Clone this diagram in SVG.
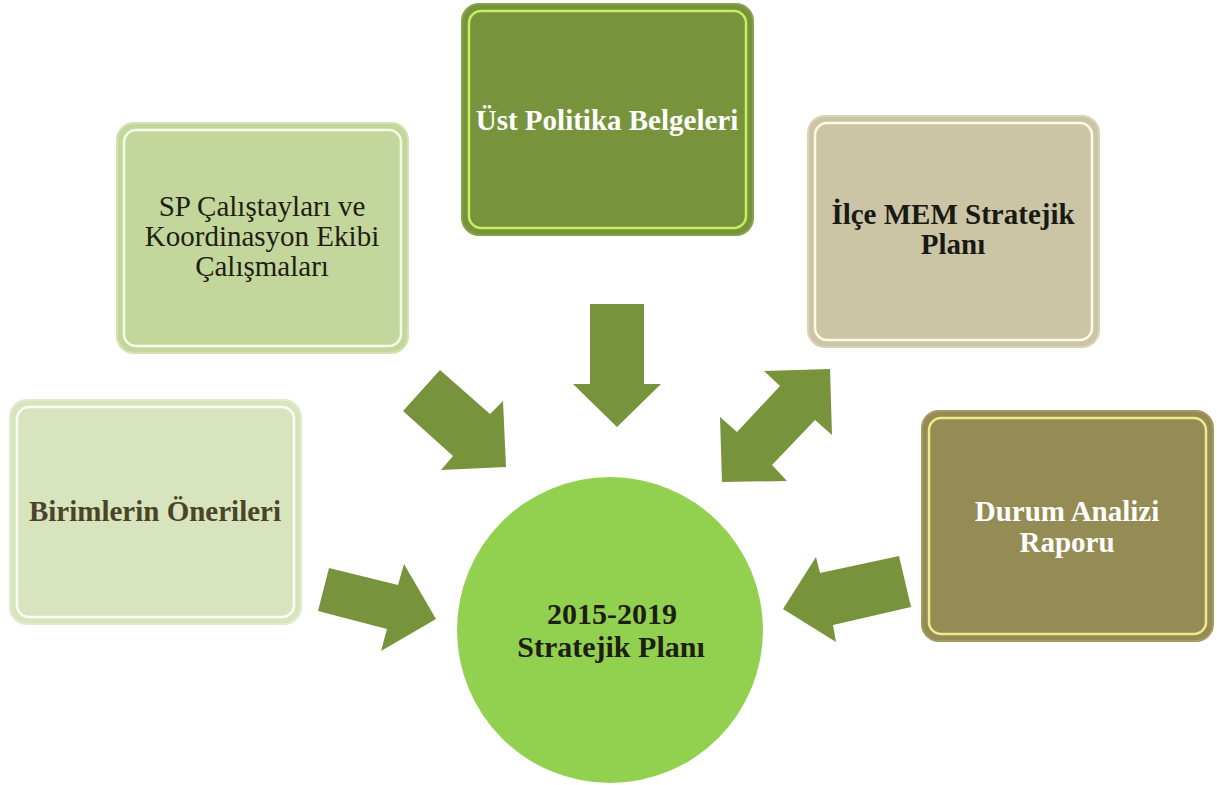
<svg xmlns="http://www.w3.org/2000/svg" width="1217" height="785" viewBox="0 0 1217 785">
  <defs>
    <style>
      .t { font-family: "Liberation Serif", "Times New Roman", serif; font-size: 29px; text-anchor: middle; }
      .b { font-weight: bold; }
      .arrow { fill: #77933c; }
      .inner { fill: none; stroke-width: 2.5; }
    </style>
  </defs>
  <rect width="1217" height="785" fill="#ffffff"/>

  <g id="connectors">
    <polygon class="arrow" points="440,370 490,414 503,401 506,467 441,470 453,456 403,411"/>
    <polygon class="arrow" points="590,304 644,304 644,384 661,384 617,427 573,384 590,384"/>
    <polygon class="arrow" points="830,369 832,435 815,420 772,465 787,481 722,482 720,417 737,432 780,386 764,371"/>
    <polygon class="arrow" points="329,568 398,585 404,564 436,619 381,651 387,629 318,611"/>
    <polygon class="arrow" points="899,556 911,607 833,625 836,642 783,609 816,557 820,573"/>
  </g>

  <g id="node-sp">
    <rect x="117" y="123" width="291" height="230" rx="17" fill="#c3d69b" stroke="#d2e2b0" stroke-width="2"/>
    <rect class="inner" x="124" y="130" width="277" height="216" rx="12" stroke="#f6fbe6"/>
    <text class="t" x="262" y="216" fill="#1e1e12">SP Çalıştayları ve</text>
    <text class="t" x="262" y="246" fill="#1e1e12">Koordinasyon Ekibi</text>
    <text class="t" x="262" y="276" fill="#1e1e12">Çalışmaları</text>
  </g>

  <g id="node-ust">
    <rect x="462" y="4" width="291" height="231" rx="17" fill="#77933c" stroke="#86a24a" stroke-width="2"/>
    <rect class="inner" x="469" y="11" width="277" height="217" rx="12" stroke="#c6ef62"/>
    <text class="t b" x="607" y="130" fill="#ffffff">Üst Politika Belgeleri</text>
  </g>

  <g id="node-ilce">
    <rect x="808" y="116" width="291" height="231" rx="17" fill="#cbc5a5" stroke="#d8d3b8" stroke-width="2"/>
    <rect class="inner" x="815" y="123" width="277" height="217" rx="12" stroke="#fffbe4"/>
    <text class="t b" x="953" y="224" fill="#1a1a14">İlçe MEM Stratejik</text>
    <text class="t b" x="953" y="254" fill="#1a1a14">Planı</text>
  </g>

  <g id="node-birimler">
    <rect x="10" y="400" width="291" height="224" rx="17" fill="#d7e4bd" stroke="#e0ebcb" stroke-width="2"/>
    <rect class="inner" x="17" y="407" width="277" height="210" rx="12" stroke="#fbfdf4"/>
    <text class="t b" x="155" y="521" fill="#4a4429">Birimlerin Önerileri</text>
  </g>

  <g id="node-durum">
    <rect x="922" y="411" width="291" height="230" rx="17" fill="#958b54" stroke="#a49a5e" stroke-width="2"/>
    <rect class="inner" x="929" y="418" width="277" height="216" rx="12" stroke="#f2e88c"/>
    <text class="t b" x="1067" y="521" fill="#ffffff">Durum Analizi</text>
    <text class="t b" x="1067" y="552" fill="#ffffff">Raporu</text>
  </g>

  <g id="node-plan">
    <circle cx="610" cy="630" r="153" fill="#92d050"/>
    <text class="t b" x="612" y="624" fill="#1e1e14" style="font-size:30px">2015-2019</text>
    <text class="t b" x="611" y="657" fill="#1e1e14" style="font-size:30px">Stratejik Planı</text>
  </g>
</svg>
